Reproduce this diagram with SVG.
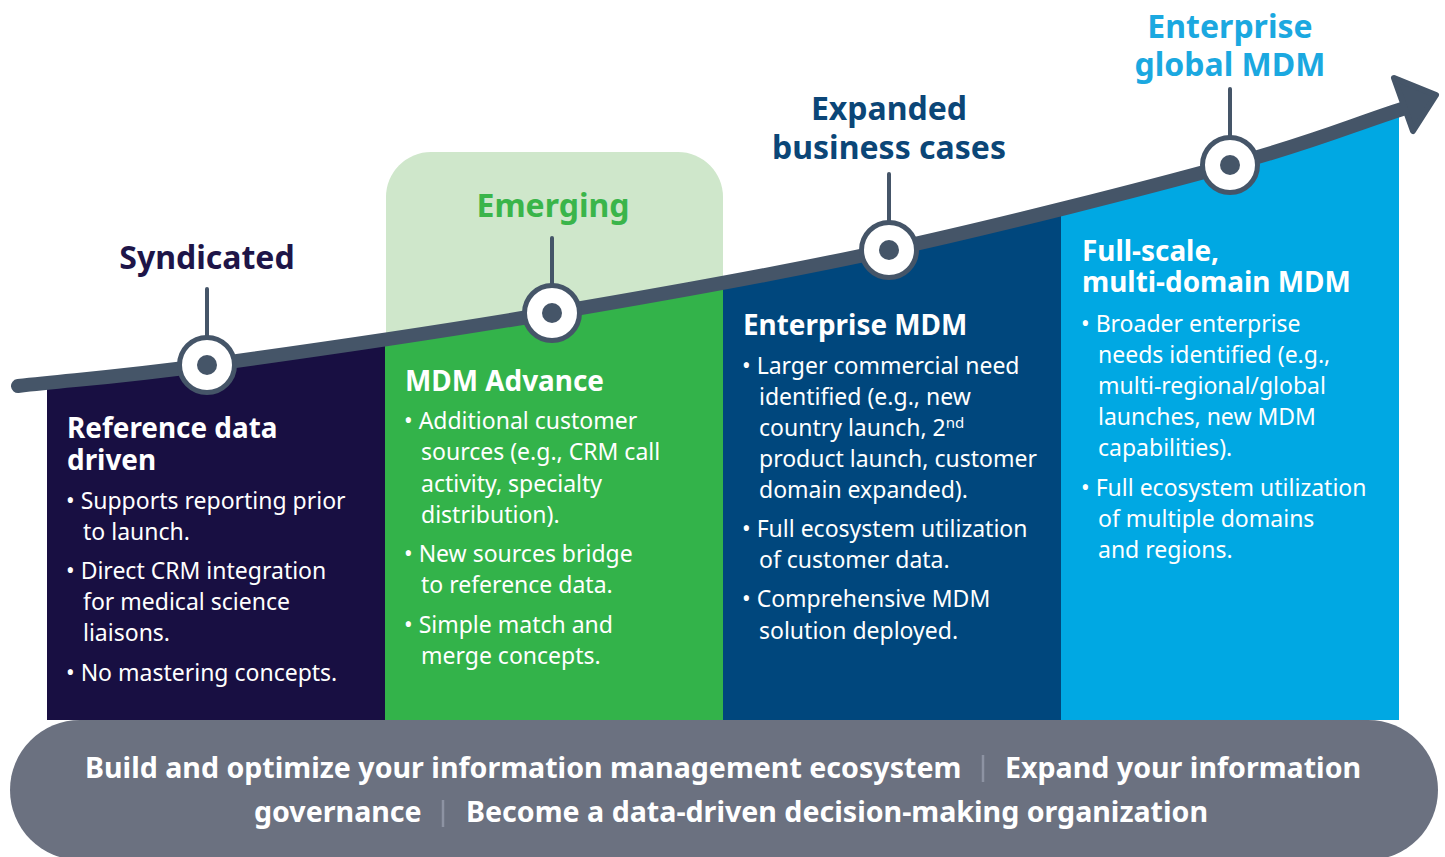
<svg xmlns="http://www.w3.org/2000/svg" width="1445" height="857" viewBox="0 0 1445 857">
<defs>
<style>
.h{font-family:"Noto Sans","Open Sans","Liberation Sans",sans-serif;font-weight:700;}
.b{font-family:"Noto Sans","Open Sans","Liberation Sans",sans-serif;font-size:23px;fill:#fff;}
.ch{font-size:27.9px;fill:#fff;}
.lab{font-size:32px;text-anchor:middle;}
.ft{font-size:28.6px;fill:#fff;}
.stem{stroke:#455568;stroke-width:4;stroke-linecap:round;}
.ring{fill:#fff;stroke:#455568;stroke-width:5;}
.dot{fill:#455568;}
.sep{stroke:#8d93a3;stroke-width:2.5;}
</style>
<clipPath id="below">
<path d="M18,386 C81,379 118,377.2 207,365 C296,352.8 438.5,332.2 552,313 C665.5,293.8 775,274.7 888,250 C1001,225.3 1143.8,188.7 1230,165 C1316.2,141.3 1346.7,127 1405,108 L1420,108 L1420,720 L0,720 L0,386 Z"/>
</clipPath>
</defs>

<rect id="emerging-bg" x="386" y="152" width="337" height="320" rx="45" fill="#cfe7cb"/>

<g id="col-reference" clip-path="url(#below)">
<rect x="47" y="100" width="339" height="620" fill="#180f42"/>
</g>
<g id="col-advance" clip-path="url(#below)">
<rect x="385" y="100" width="339" height="620" fill="#33b34a"/>
</g>
<g id="col-enterprise" clip-path="url(#below)">
<rect x="723" y="100" width="339" height="620" fill="#00477d"/>
</g>
<g id="col-fullscale" clip-path="url(#below)">
<rect x="1061" y="100" width="338" height="620" fill="#00a8e3"/>
</g>

<g id="footer">
<rect x="10" y="720" width="1428" height="140" rx="70" fill="#6b7180"/>
<text class="h ft" x="85" y="778">Build and optimize your information management ecosystem</text>
<line class="sep" x1="983" y1="755" x2="983" y2="782"/>
<text class="h ft" x="1005" y="778">Expand your information</text>
<text class="h ft" x="254" y="822">governance</text>
<line class="sep" x1="443" y1="800" x2="443" y2="827"/>
<text class="h ft" x="466" y="822">Become a data-driven decision-making organization</text>
</g>

<g id="connectors">
<path d="M18,386 C81,379 118,377.2 207,365 C296,352.8 438.5,332.2 552,313 C665.5,293.8 775,274.7 888,250 C1001,225.3 1143.8,188.7 1230,165 C1316.2,141.3 1346.7,127 1405,108" fill="none" stroke="#455568" stroke-width="14" stroke-linecap="round"/>
<polygon points="1394,78 1436,95 1413,131" fill="#455568" stroke="#455568" stroke-width="6" stroke-linejoin="round"/>
<line class="stem" x1="207" y1="289" x2="207" y2="338"/>
<line class="stem" x1="552" y1="238" x2="552" y2="286"/>
<line class="stem" x1="889" y1="174" x2="889" y2="223"/>
<line class="stem" x1="1230" y1="89" x2="1230" y2="138"/>
</g>

<g id="m-syndicated">
<circle class="ring" cx="207" cy="365" r="27.5"/><circle class="dot" cx="207" cy="365" r="10"/>
<text class="h lab" x="207" y="269" fill="#1e1548">Syndicated</text>
</g>
<g id="m-emerging">
<circle class="ring" cx="552" cy="313" r="27.5"/><circle class="dot" cx="552" cy="313" r="10"/>
<text class="h lab" x="553" y="217" fill="#3ab54a">Emerging</text>
</g>
<g id="m-expanded">
<circle class="ring" cx="889" cy="250" r="27.5"/><circle class="dot" cx="889" cy="250" r="10"/>
<text class="h lab" x="889" y="120" fill="#0b4677">Expanded</text>
<text class="h lab" x="889" y="159" fill="#0b4677">business cases</text>
</g>
<g id="m-global">
<circle class="ring" cx="1230" cy="165" r="27.5"/><circle class="dot" cx="1230" cy="165" r="10"/>
<text class="h lab" x="1230" y="38" fill="#1ba8e0">Enterprise</text>
<text class="h lab" x="1230" y="76" fill="#1ba8e0">global MDM</text>
</g>

<g id="t-reference">
<text class="h ch" x="67" y="438">Reference data</text>
<text class="h ch" x="67" y="470">driven</text>
<text class="b" x="66" y="509">• Supports reporting prior</text>
<text class="b" x="83" y="540">to launch.</text>
<text class="b" x="66" y="579">• Direct CRM integration</text>
<text class="b" x="83" y="610">for medical science</text>
<text class="b" x="83" y="641">liaisons.</text>
<text class="b" x="66" y="681">• No mastering concepts.</text>
</g>
<g id="t-advance">
<text class="h ch" x="405" y="391">MDM Advance</text>
<text class="b" x="404" y="429">• Additional customer</text>
<text class="b" x="421" y="460">sources (e.g., CRM call</text>
<text class="b" x="421" y="492">activity, specialty</text>
<text class="b" x="421" y="523">distribution).</text>
<text class="b" x="404" y="562">• New sources bridge</text>
<text class="b" x="421" y="593">to reference data.</text>
<text class="b" x="404" y="633">• Simple match and</text>
<text class="b" x="421" y="664">merge concepts.</text>
</g>
<g id="t-enterprise">
<text class="h ch" x="743" y="335">Enterprise MDM</text>
<text class="b" x="742" y="374">• Larger commercial need</text>
<text class="b" x="759" y="405">identified (e.g., new</text>
<text class="b" x="759" y="436">country launch, 2<tspan font-size="15" dy="-8">nd</tspan></text>
<text class="b" x="759" y="467">product launch, customer</text>
<text class="b" x="759" y="498">domain expanded).</text>
<text class="b" x="742" y="537">• Full ecosystem utilization</text>
<text class="b" x="759" y="568">of customer data.</text>
<text class="b" x="742" y="607">• Comprehensive MDM</text>
<text class="b" x="759" y="639">solution deployed.</text>
</g>
<g id="t-fullscale">
<text class="h ch" x="1082" y="261">Full-scale,</text>
<text class="h ch" x="1082" y="292">multi-domain MDM</text>
<text class="b" x="1081" y="332">• Broader enterprise</text>
<text class="b" x="1098" y="363">needs identified (e.g.,</text>
<text class="b" x="1098" y="394">multi-regional/global</text>
<text class="b" x="1098" y="425">launches, new MDM</text>
<text class="b" x="1098" y="456">capabilities).</text>
<text class="b" x="1081" y="496">• Full ecosystem utilization</text>
<text class="b" x="1098" y="527">of multiple domains</text>
<text class="b" x="1098" y="558">and regions.</text>
</g>
</svg>
